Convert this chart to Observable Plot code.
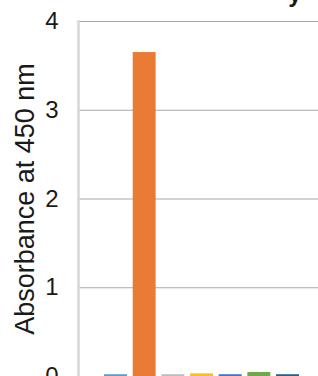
<!DOCTYPE html>
<html>
<head>
<meta charset="utf-8">
<script src="https://cdn.jsdelivr.net/npm/d3@7"></script>
<script src="https://cdn.jsdelivr.net/npm/@observablehq/plot@0.6"></script>
<style>
  html, body { margin: 0; padding: 0; background: #fff; overflow: hidden; }
  svg { display: block; }
</style>
</head>
<body>
<div id="chart"></div>
<script>
const series = ["Series 1", "Series 2", "Series 3", "Series 4", "Series 5", "Series 6", "Series 7"];
const values = [0.02, 3.65, 0.02, 0.03, 0.02, 0.045, 0.02];
const colors = ["#5B9BD5", "#E97B35", "#BDBDBD", "#FBBF1F", "#4472C4", "#6FA847", "#255E91"];
const yTicks = [0, 1, 2, 3, 4];
const gridTicks = [1, 2, 3, 4];
const yLabel = "Absorbance at 450 nm";
const titleFragment = "y";

const data = series.map((s, i) => ({series: s, value: values[i]}));

const chart = Plot.plot({
  width: 318,
  height: 376,
  marginLeft: 78,
  marginRight: 0,
  marginTop: 21,
  marginBottom: 0,
  style: {fontFamily: "'Liberation Sans', Arial, sans-serif", color: "#1a1a1a", background: "#fff"},
  x: {type: "band", domain: series, paddingInner: 0.2, paddingOuter: 0.786, align: 0.578, round: false, axis: null},
  y: {domain: [0, 4], ticks: yTicks},
  color: {domain: series, range: colors},
  marks: [
    Plot.ruleY(gridTicks, {stroke: "#a8a8a8", strokeWidth: 1}),
    Plot.barY(data, {x: "series", y: "value", fill: "series"}),
    Plot.frame({anchor: "left", stroke: "#d6d6d6", strokeWidth: 2.5}),
    Plot.axisY(yTicks, {
      tickSize: 0, tickPadding: 20, fontSize: 24, tickFormat: d3.format("d"), label: null
    }),
    Plot.axisY([], {
      tickSize: 0, fontSize: 27,
      label: yLabel, labelAnchor: "center", labelArrow: "none", labelOffset: 64
    }),
    Plot.text([titleFragment], {
      frameAnchor: "top-right", text: d => d, lineAnchor: "bottom",
      dx: -17, dy: -20, fontSize: 24, fontWeight: "bold", fill: "#1a1a1a"
    })
  ]
});
document.getElementById("chart").appendChild(chart);
</script>
</body>
</html>
